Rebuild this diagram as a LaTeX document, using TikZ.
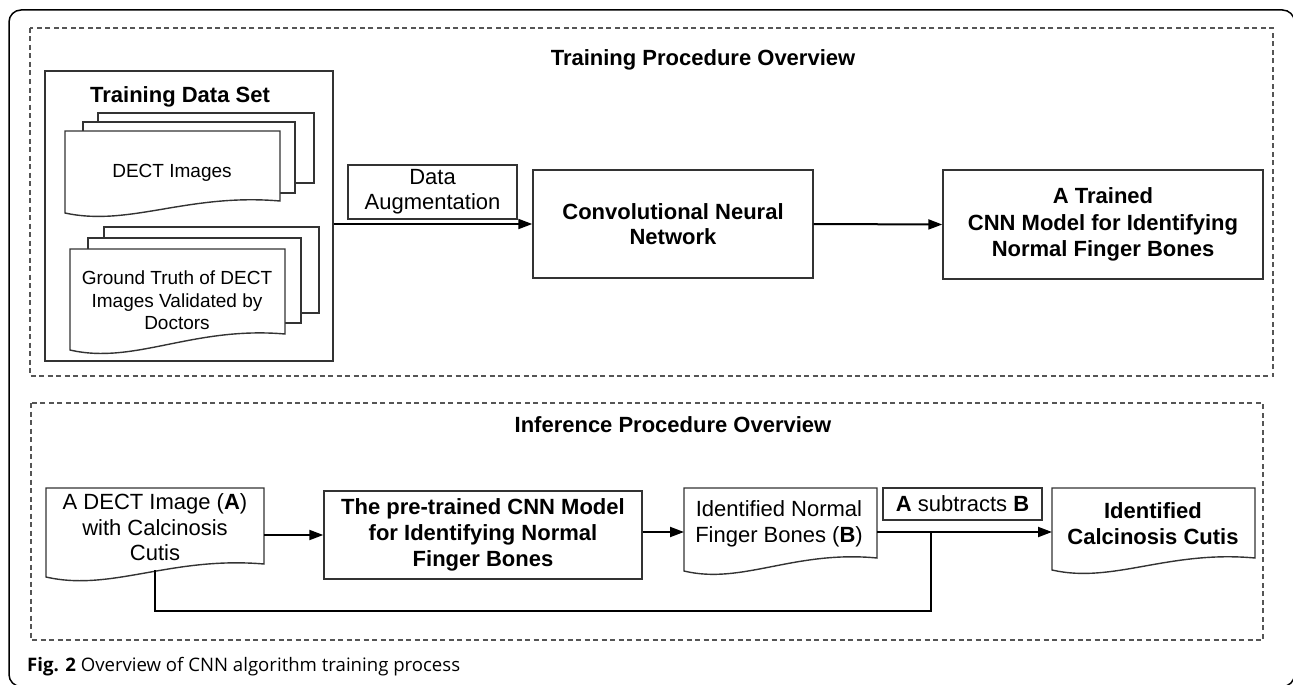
\documentclass[tikz,border=0pt]{standalone}
\usepackage{fontspec}
\setmainfont{Liberation Sans}
\newfontfamily\capfont{Open Sans}
\usetikzlibrary{arrows.meta,calc}
\definecolor{boxc}{HTML}{333333}
\definecolor{dashc}{HTML}{555555}
\tikzset{
 box/.style={draw=boxc, line width=1.4pt, fill=white, inner sep=0pt, align=center},
 shapenode/.style={inner sep=0pt, outer sep=0pt},
 txt/.style={inner sep=0pt, align=center, font=\fontsize{22}{25.5}\selectfont},
 btxt/.style={inner sep=0pt, align=center, font=\fontsize{22}{25.5}\selectfont\bfseries},
 stxt/.style={inner sep=0pt, align=center, font=\fontsize{19}{22.5}\selectfont},
 dashbox/.style={draw=dashc, line width=1.4pt, dash pattern=on 5pt off 3.5pt},
 conn/.style={line width=2pt, draw=black},
 arr/.style={conn, -{Triangle[length=14pt,width=10pt]}},
}
\newcommand{\docshape}[3]{%
 \path[draw=boxc, line width=1.4pt, fill=white] (#1.north west) -- (#1.north east) -- (#1.south east)
  .. controls ($(#1.south west)!0.57!(#1.south east)+(0,-8)$) and ($(#1.south west)!0.3!(#1.south east)+(0,#2+#3)$)
  .. ($(#1.south west)+(0,#2)$) -- cycle;}
\begin{document}
\begin{tikzpicture}[x=1pt,y=-1pt]
\useasboundingbox (0,0) rectangle (1293,685);
% outer frame
\draw[line width=1.5pt, rounded corners=12pt] (9,10) rectangle (1294.5,686.5);
% section frames
\draw[dashbox] (30,28) rectangle (1273,376);
\draw[dashbox] (31,403) rectangle (1263,640);
% ---------- training ----------
\node[btxt] (t1) at (703,60) {Training Procedure Overview};
\node[box, minimum width=288pt, minimum height=290pt] (tds) at (189,216) {};
\node[btxt] (tdst) at (180,97) {Training Data Set};
% DECT stack
\node[box, minimum width=216pt, minimum height=70pt] (s1a) at (206,148) {};
\node[box, minimum width=212pt, minimum height=71pt] (s1b) at (189,157.5) {};
\node[shapenode, minimum width=215pt, minimum height=70pt] (dect) at (172.5,166) {};
\docshape{dect}{12}{14}
\node[stxt] (dectt) at (172,173) {DECT Images};
% Ground truth stack
\node[box, minimum width=215pt, minimum height=86pt] (s2a) at (211.5,270) {};
\node[box, minimum width=213pt, minimum height=85pt] (s2b) at (194.5,280.5) {};
\node[shapenode, minimum width=215pt, minimum height=85pt] (gt) at (177.5,291.5) {};
\docshape{gt}{16}{15}
\node[stxt] (gtt) at (177,300.5) {Ground Truth of DECT\\Images Validated by\\Doctors};
% augmentation, CNN, trained
\node[box, minimum width=169pt, minimum height=54pt, font=\fontsize{22}{25}\selectfont] (daug) at (432.5,192) {Data\\Augmentation};
\node[box, minimum width=280pt, minimum height=108pt, font=\fontsize{22}{25.5}\selectfont\bfseries] (cnn) at (673,224) {Convolutional Neural\\Network};
\node[box, minimum width=320pt, minimum height=109pt, font=\fontsize{22}{26.5}\selectfont\bfseries] (trained) at (1103,224.5) {A Trained\\CNN Model for Identifying\\Normal Finger Bones};
\draw[arr] (tds.east |- cnn.west) -- (cnn.west);
\draw[arr] (cnn.east) -- (trained.west);
% ---------- inference ----------
\node[btxt] (t2) at (673,425) {Inference Procedure Overview};
\node[shapenode, minimum width=218pt, minimum height=76pt] (docA) at (155,526) {};
\docshape{docA}{13}{15}
\node[txt, font=\fontsize{22}{25.5}\selectfont] (docAt) at (155,527.5) {A DECT Image (\textbf{A})\\with Calcinosis\\Cutis};
\node[box, minimum width=318pt, minimum height=88pt, font=\fontsize{22}{26}\selectfont\bfseries] (pre) at (483,535) {The pre-trained CNN Model\\for Identifying Normal\\Finger Bones};
\node[shapenode, minimum width=193pt, minimum height=70pt] (docB) at (780.5,523) {};
\docshape{docB}{13}{14}
\node[txt, font=\fontsize{22}{26}\selectfont] (docBt) at (779,524) {Identified Normal\\Finger Bones (\textbf{B})};
\node[box, minimum width=159pt, minimum height=32pt, font=\fontsize{22}{25}\selectfont] (sub) at (962.5,504) {\textbf{A} subtracts \textbf{B}};
\node[shapenode, minimum width=203pt, minimum height=70pt] (docC) at (1153.5,523) {};
\docshape{docC}{12}{14}
\node[btxt, font=\fontsize{22}{26}\selectfont\bfseries] (docCt) at (1153,524) {Identified\\Calcinosis Cutis};
\coordinate (aOut) at ($(docA.east)+(0,9)$);
\coordinate (bIn) at ($(docB.west)+(0,9)$);
\coordinate (bOut) at ($(docB.east)+(0,9)$);
\coordinate (cIn) at ($(docC.west)+(0,9)$);
\coordinate (junc) at ($(bOut)!0.31!(cIn)$);
\coordinate (aBot) at ($(docA.south)+(0,6)$);
\draw[arr] (aOut) -- (pre.west |- aOut);
\draw[arr] (pre.east |- bIn) -- (bIn);
\draw[arr] (bOut) -- (cIn);
\draw[conn] (aBot) |- ([yshift=-79pt]junc) -- (junc);
% caption
\node[anchor=west, inner sep=0pt, font=\capfont\fontsize{18.6}{21}\selectfont] (cap) at (27,667) {\textbf{Fig. 2} Overview of CNN algorithm training process};
\end{tikzpicture}
\end{document}
